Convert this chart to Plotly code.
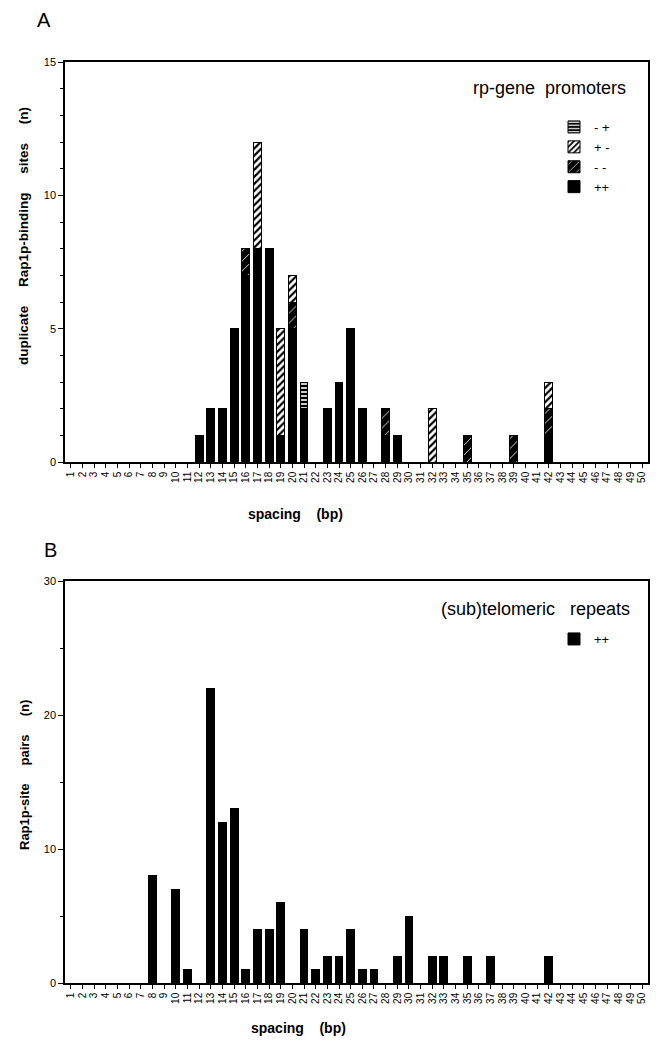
import plotly.graph_objects as go

spacing = list(range(1, 51))
tick_labels = [str(s) for s in spacing]

# Panel A: rp-gene promoters (stacked by orientation)
a_pp = {12: 1, 13: 2, 14: 2, 15: 5, 16: 7, 17: 8, 18: 8, 19: 1, 20: 5, 21: 2,
        23: 2, 24: 3, 25: 5, 26: 2, 28: 1, 29: 1, 42: 1}
a_mm = {16: 1, 20: 1, 28: 1, 35: 1, 39: 1, 42: 1}
a_pm = {17: 4, 19: 4, 20: 1, 32: 2, 42: 1}
a_mp = {21: 1}

# Panel B: (sub)telomeric repeats
b_pp = {8: 8, 10: 7, 11: 1, 13: 22, 14: 12, 15: 13, 16: 1, 17: 4, 18: 4, 19: 6,
        21: 4, 22: 1, 23: 2, 24: 2, 25: 4, 26: 1, 27: 1, 29: 2, 30: 5, 32: 2,
        33: 2, 35: 2, 37: 2, 42: 2}


def series(d):
    return [d.get(s, 0) for s in spacing]


OFF = 8  # page body margin
W, H = 659 - OFF, 1043 - OFF
ml, mr, mt, mb = 65 - OFF, 11, 62 - OFF, 60
font = "Liberation Sans, Arial, sans-serif"

fig = go.Figure()
line = dict(color="black", width=1)
bw = 0.68

fig.add_trace(go.Bar(x=spacing, y=series(a_pp), name="++", width=bw,
                     marker=dict(color="black", line=line),
                     xaxis="x", yaxis="y", legend="legend"))
fig.add_trace(go.Bar(x=spacing, y=series(a_mm), name="- -", width=bw,
                     marker=dict(color="black", line=line,
                                 pattern=dict(shape="/", bgcolor="black", fgcolor="white",
                                              size=7, solidity=0.12, fillmode="replace")),
                     xaxis="x", yaxis="y", legend="legend"))
fig.add_trace(go.Bar(x=spacing, y=series(a_pm), name="+ -", width=bw,
                     marker=dict(color="white", line=line,
                                 pattern=dict(shape="/", bgcolor="white", fgcolor="black",
                                              size=5, solidity=0.45, fillmode="replace")),
                     xaxis="x", yaxis="y", legend="legend"))
fig.add_trace(go.Bar(x=spacing, y=series(a_mp), name="- +", width=bw,
                     marker=dict(color="black", line=line,
                                 pattern=dict(shape="-", bgcolor="black", fgcolor="white",
                                              size=4, solidity=0.4, fillmode="replace")),
                     xaxis="x", yaxis="y", legend="legend"))

fig.add_trace(go.Bar(x=spacing, y=series(b_pp), name="++", width=bw,
                     marker=dict(color="black", line=line),
                     xaxis="x2", yaxis="y2", legend="legend2"))

plot_h = H - mt - mb
plot_w = W - ml - mr


def px_x(x):
    return (x - OFF - ml) / plot_w


def px_y(y):
    return (H - mb - (y - OFF)) / plot_h


xcommon = dict(range=[0.5, 50.5], tickmode="array", tickvals=spacing, ticktext=tick_labels,
               tickangle=-90, tickfont=dict(family=font, size=10, color="black"),
               ticks="outside", ticklen=4, tickcolor="black", showline=True,
               linecolor="black", linewidth=1.5, mirror=True, showgrid=False, zeroline=False)
ycommon = dict(ticks="outside", ticklen=5, tickcolor="black", showline=True,
               linecolor="black", linewidth=1.5, mirror=True, showgrid=False, zeroline=False,
               tickfont=dict(family=font, size=11, color="black"))

fig.update_layout(
    width=W, height=H,
    margin=dict(l=ml, r=mr, t=mt, b=mb, autoexpand=False),
    paper_bgcolor="white", plot_bgcolor="white",
    barmode="stack", bargap=0.3,
    font=dict(family=font, color="black"),
    xaxis=dict(**xcommon, domain=[0, 1], anchor="y"),
    yaxis=dict(**ycommon, domain=[px_y(462), px_y(62)], range=[0, 15], tickvals=[0, 5, 10, 15],
               minor=dict(dtick=1, ticks="outside", ticklen=3, tickcolor="black"),
               anchor="x"),
    xaxis2=dict(**xcommon, domain=[0, 1], anchor="y2"),
    yaxis2=dict(**ycommon, domain=[px_y(983), px_y(581)], range=[0, 30], tickvals=[0, 10, 20, 30],
                minor=dict(dtick=5, ticks="outside", ticklen=3, tickcolor="black"),
                anchor="x2"),
    legend=dict(x=px_x(554), y=px_y(112),
                xanchor="left", yanchor="top", traceorder="reversed",
                bgcolor="rgba(0,0,0,0)", font=dict(family=font, size=13, color="black"),
                itemwidth=30, tracegroupgap=0),
    legend2=dict(x=px_x(554), y=px_y(624),
                 xanchor="left", yanchor="top",
                 bgcolor="rgba(0,0,0,0)", font=dict(family=font, size=13, color="black"),
                 itemwidth=30),
)

nb = "\u00a0"
ann = [
    dict(text="A", x=44, y=20, font=dict(size=20)),
    dict(text="B", x=50, y=550, font=dict(size=20)),
    dict(text=f"rp-gene{nb}{nb}promoters", x=628, y=88, xanchor="right", font=dict(size=18)),
    dict(text=f"(sub)telomeric{nb}{nb}{nb}repeats", x=632, y=609, xanchor="right", font=dict(size=18)),
    dict(text=f"<b>duplicate{nb}{nb}{nb}{nb}{nb}Rap1p-binding{nb}{nb}{nb}{nb}{nb}sites{nb}{nb}{nb}{nb}{nb}(n)</b>",
         x=24, y=236, textangle=-90, font=dict(size=13.5)),
    dict(text=f"<b>Rap1p-site{nb}{nb}{nb}{nb}{nb}pairs{nb}{nb}{nb}{nb}{nb}(n)</b>",
         x=24, y=775, textangle=-90, font=dict(size=13)),
    dict(text=f"<b>spacing{nb}{nb}{nb}{nb}(bp)</b>", x=295, y=514, font=dict(size=14)),
    dict(text=f"<b>spacing{nb}{nb}{nb}{nb}(bp)</b>", x=298, y=1028, font=dict(size=14)),
]
for a in ann:
    a.update(xref="paper", yref="paper", showarrow=False)
    a["x"] = px_x(a["x"])
    a["y"] = px_y(a["y"])
    a.setdefault("xanchor", "center")
    a["yanchor"] = "middle"
    a["font"] = dict(family=font, color="black", **a["font"])
fig.update_layout(annotations=ann)

fig.write_html("out.html")
